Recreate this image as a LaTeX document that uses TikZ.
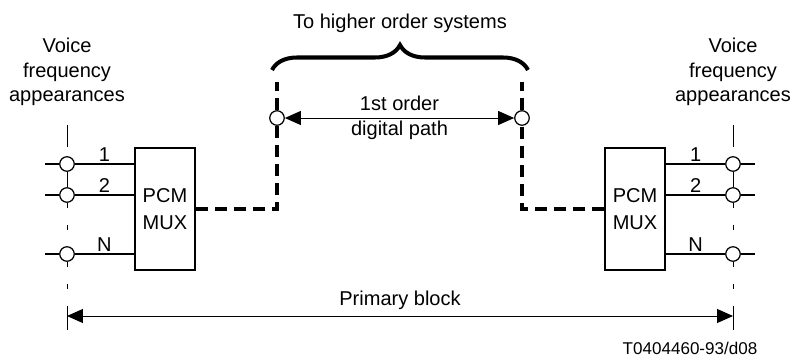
\documentclass[tikz,border=0pt]{standalone}
\usepackage{fontspec}
\setmainfont{Liberation Sans}
\usetikzlibrary{arrows.meta,decorations.pathreplacing}

\tikzset{
  term/.style={circle,draw,line width=0.7pt,fill=white,inner sep=0pt,minimum size=0.29cm},
  muxbox/.style={draw,line width=1.3pt,minimum width=1.2cm,minimum height=2.44cm,
    align=center,inner sep=0pt,font=\fontsize{11.4}{15.3}\selectfont},
  sig/.style={line width=1.1pt},
  trunk/.style={line width=1.9pt,dash pattern=on 0.24cm off 0.14cm},
  vline/.style={line width=0.55pt},
  vdash/.style={vline,dash pattern=on 0.1cm off 0.34cm},
  dimline/.style={line width=0.55pt,
    {Triangle[length=0.32cm,width=0.28cm]}-{Triangle[length=0.32cm,width=0.28cm]}},
  chan/.style={above,inner sep=1pt},
}

\begin{document}
\begin{tikzpicture}[x=0.02cm,y=-0.02cm,font=\fontsize{11.4}{14}\selectfont]
\useasboundingbox (0,0) rectangle (793,361);

\node[align=center] (vfl) at (67,72) {Voice\\frequency\\appearances};
\node[align=center] (vfr) at (733,72) {Voice\\frequency\\appearances};
\node (higher) at (400,23) {To higher order systems};

\node[muxbox] (lmux) at (165,209) {PCM\\MUX};
\node[muxbox] (rmux) at (635,209) {PCM\\MUX};

\node[term] (l1) at (67,164) {};
\node[term] (l2) at (67,195) {};
\node[term] (l3) at (67,254) {};
\node[term] (r1) at (733,164) {};
\node[term] (r2) at (733,195) {};
\node[term] (r3) at (733,254) {};
\node[term] (lp) at (277,118) {};
\node[term] (rp) at (522,118) {};

\coordinate (lt) at (67,125);
\coordinate (lg) at (67,147);
\coordinate (ltt) at (67,306);
\coordinate (ltb) at (67,330);
\coordinate (rt) at (733,125);
\coordinate (rg) at (733,147);
\coordinate (rtt) at (733,306);
\coordinate (rtb) at (733,330);
\coordinate (ltop) at (277,82);
\coordinate (rtop) at (522,82);
\coordinate (bl) at (272,70);
\coordinate (br) at (528,70);
\coordinate (pbl) at (67,316);
\coordinate (pbr) at (733,316);

\draw[vline] (lt) -- (lg);
\draw[vline] (l1) -- (l2);
\draw[vdash] (l2) -- (l3) -- (ltt);
\draw[vline] (ltt) -- (ltb);
\draw[vline] (rt) -- (rg);
\draw[vline] (r1) -- (r2);
\draw[vdash] (r2) -- (r3) -- (rtt);
\draw[vline] (rtt) -- (rtb);

\draw[sig] (45,164) -- (l1) -- (l1 -| lmux.west) node[chan,midway] {1};
\draw[sig] (45,195) -- (l2) -- (l2 -| lmux.west) node[chan,midway] {2};
\draw[sig] (45,254) -- (l3) -- (l3 -| lmux.west) node[chan,midway] {N};
\draw[sig] (755,164) -- (r1) -- (r1 -| rmux.east) node[chan,midway] {1};
\draw[sig] (755,195) -- (r2) -- (r2 -| rmux.east) node[chan,midway] {2};
\draw[sig] (755,254) -- (r3) -- (r3 -| rmux.east) node[chan,midway] {N};

\draw[trunk] (lmux.east) -- (lmux.east -| lp) -- (lp);
\draw[trunk] (lp) -- (ltop);
\draw[trunk] (rmux.west) -- (rmux.west -| rp) -- (rp);
\draw[trunk] (rp) -- (rtop);

\draw[dimline] (lp) -- node[align=center] {1st order\\digital path} (rp);
\draw[line width=2.3pt,decorate,decoration={brace,amplitude=0.5cm}] (bl) -- (br);

\draw[dimline] (pbl) -- node[above] {Primary block} (pbr);
\node[font=\fontsize{9.7}{12}\selectfont] (code) at (690,348) {T0404460-93/d08};
\end{tikzpicture}
\end{document}
